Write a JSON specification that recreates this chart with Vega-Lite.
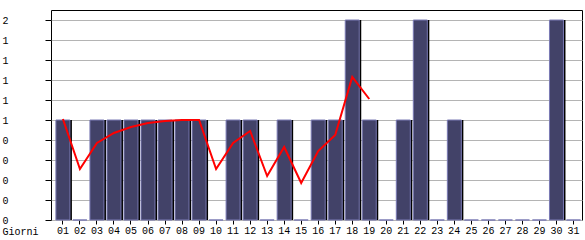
{
  "$schema": "https://vega.github.io/schema/vega-lite/v6.json",
  "width": 531,
  "height": 210,
  "autosize": "none",
  "padding": {"left": 51, "top": 10, "right": 3, "bottom": 20},
  "background": "#ffffff",
  "config": {
    "view": {"stroke": "#000000", "strokeWidth": 1},
    "font": "Liberation Mono"
  },
  "data": {
    "values": [
      {"day": "01", "value": 1, "avg": 1.01},
      {"day": "02", "value": 0, "avg": 0.51},
      {"day": "03", "value": 1, "avg": 0.77},
      {"day": "04", "value": 1, "avg": 0.87},
      {"day": "05", "value": 1, "avg": 0.93},
      {"day": "06", "value": 1, "avg": 0.97},
      {"day": "07", "value": 1, "avg": 0.99},
      {"day": "08", "value": 1, "avg": 1.0},
      {"day": "09", "value": 1, "avg": 1.0},
      {"day": "10", "value": 0, "avg": 0.51},
      {"day": "11", "value": 1, "avg": 0.77},
      {"day": "12", "value": 1, "avg": 0.89},
      {"day": "13", "value": 0, "avg": 0.44},
      {"day": "14", "value": 1, "avg": 0.73},
      {"day": "15", "value": 0, "avg": 0.37},
      {"day": "16", "value": 1, "avg": 0.69},
      {"day": "17", "value": 1, "avg": 0.85},
      {"day": "18", "value": 2, "avg": 1.43},
      {"day": "19", "value": 1, "avg": 1.21},
      {"day": "20", "value": 0, "avg": null},
      {"day": "21", "value": 1, "avg": null},
      {"day": "22", "value": 2, "avg": null},
      {"day": "23", "value": 0, "avg": null},
      {"day": "24", "value": 1, "avg": null},
      {"day": "25", "value": 0, "avg": null},
      {"day": "26", "value": 0, "avg": null},
      {"day": "27", "value": 0, "avg": null},
      {"day": "28", "value": 0, "avg": null},
      {"day": "29", "value": 0, "avg": null},
      {"day": "30", "value": 2, "avg": null},
      {"day": "31", "value": 0, "avg": null}
    ]
  },
  "encoding": {
    "x": {
      "field": "day",
      "type": "ordinal",
      "scale": {"paddingInner": 0, "paddingOuter": 0.1, "align": 1},
      "axis": {
        "title": "Giorni",
        "titleFont": "Liberation Mono",
        "titleFontSize": 10,
        "titleFontWeight": "normal",
        "titleColor": "#000000",
        "titleAnchor": "start",
        "titleAlign": "left",
        "titleBaseline": "alphabetic",
        "titleX": -49,
        "titleY": 14,
        "labelAngle": 0,
        "labelFont": "Liberation Mono",
        "labelFontSize": 10,
        "labelColor": "#000000",
        "labelPadding": 1,
        "labelOverlap": false,
        "tickSize": 4,
        "tickColor": "#000000",
        "domain": false,
        "grid": false
      }
    },
    "y": {
      "field": "value",
      "type": "quantitative",
      "scale": {"domain": [0, 2.1], "nice": false, "zero": true},
      "axis": {
        "title": null,
        "values": [0, 0.2, 0.4, 0.6, 0.8, 1, 1.2, 1.4, 1.6, 1.8, 2],
        "labelExpr": "floor(datum.value + 0.001)",
        "labelFont": "Liberation Mono",
        "labelFontSize": 10,
        "labelColor": "#000000",
        "labelAlign": "left",
        "labelPadding": 43,
        "labelOverlap": false,
        "labelFlush": false,
        "tickSize": 6,
        "tickColor": "#000000",
        "domain": false,
        "grid": true,
        "gridColor": "#b4b4b4",
        "gridOpacity": 1,
        "gridWidth": 1
      }
    }
  },
  "layer": [
    {
      "mark": {"type": "bar", "width": 14, "xOffset": 2, "color": "#000000"}
    },
    {
      "mark": {"type": "bar", "width": 14, "color": "#424268", "stroke": "#7a7ab4", "strokeWidth": 1}
    },
    {
      "transform": [{"filter": "datum.avg != null"}],
      "mark": {"type": "line", "color": "#ff0000", "strokeWidth": 2},
      "encoding": {
        "y": {"field": "avg", "type": "quantitative"}
      }
    }
  ]
}
